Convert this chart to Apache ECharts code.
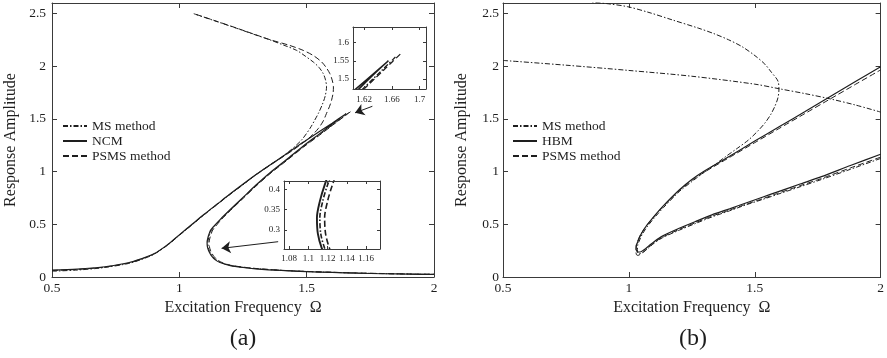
<!DOCTYPE html>
<html>
<head>
<meta charset="utf-8">
<script src="https://cdn.jsdelivr.net/npm/echarts@6/dist/echarts.min.js"></script>
<style>
  html, body { margin: 0; padding: 0; background: #fff; }
  #chart { width: 887px; height: 358px; }
</style>
</head>
<body>
<div id="chart"></div>
<script>
// ---------- (a) frequency–response curves ----------
// NCM: upper branch -> peak -> middle (unstable) branch -> lower branch
const ncmA = [
  [0.5,0.066],[0.6,0.075],[0.7,0.095],[0.8,0.135],[0.85,0.172],[0.9,0.22],[0.95,0.3],[1.0,0.4],
  [1.05,0.5],[1.1,0.6],[1.15,0.695],[1.2,0.79],[1.3,0.97],[1.4,1.135],[1.487,1.28],[1.5,1.3],
  [1.6,1.46],[1.655,1.55],
  [1.64,1.524],[1.6,1.45],[1.55,1.358],[1.487,1.243],[1.42,1.112],[1.356,0.99],[1.3,0.87],
  [1.25,0.755],[1.2,0.64],[1.16,0.545],[1.135,0.48],[1.123,0.445],[1.117,0.41],[1.112,0.37],
  [1.109,0.33],
  [1.11,0.29],[1.114,0.255],[1.12,0.225],[1.128,0.195],[1.14,0.165],[1.16,0.137],[1.2,0.108],
  [1.25,0.09],[1.3,0.078],[1.4,0.062],[1.5,0.051],[1.6,0.043],[1.7,0.036],[1.8,0.031],
  [1.9,0.027],[2.0,0.024]
];
// MS method: resonant branch bending back to high amplitude
const msAUpper = [
  [0.5,0.055],[0.6,0.066],[0.7,0.088],[0.8,0.128],[0.85,0.165],[0.9,0.215],[0.95,0.295],
  [1.0,0.395],[1.05,0.495],[1.1,0.595],[1.15,0.69],[1.2,0.785],[1.25,0.875],[1.3,0.97],
  [1.35,1.055],[1.4,1.135],[1.44,1.21],[1.48,1.3],[1.513,1.41],[1.532,1.49],[1.546,1.553],
  [1.562,1.64],[1.573,1.72],[1.578,1.805],[1.574,1.87],[1.565,1.93],[1.548,1.99],[1.526,2.04],
  [1.495,2.095],[1.461,2.15],[1.41,2.2],[1.356,2.25],[1.29,2.305],[1.225,2.36],[1.14,2.43],
  [1.055,2.5]
];
// MS method: middle and lower branches
const msALower = [
  [1.665,1.56],[1.645,1.523],[1.6,1.44],[1.55,1.35],[1.487,1.237],[1.42,1.107],[1.356,0.985],
  [1.3,0.865],[1.25,0.75],[1.2,0.635],[1.16,0.54],[1.137,0.478],[1.126,0.443],[1.12,0.41],
  [1.115,0.37],[1.112,0.33],[1.113,0.29],[1.117,0.255],[1.123,0.225],[1.131,0.195],
  [1.143,0.165],[1.163,0.137],[1.2,0.11],[1.25,0.092],[1.3,0.08],[1.4,0.063],[1.5,0.052],
  [1.6,0.044],[1.7,0.037],[1.8,0.032],[1.9,0.028],[2.0,0.025]
];
// PSMS method: resonant branch
const psmsAUpper = [
  [0.5,0.062],[0.6,0.072],[0.7,0.092],[0.8,0.132],[0.85,0.17],[0.9,0.218],[0.95,0.298],
  [1.0,0.398],[1.05,0.498],[1.1,0.598],[1.15,0.693],[1.2,0.788],[1.25,0.878],[1.3,0.968],
  [1.35,1.05],[1.4,1.13],[1.45,1.21],[1.5,1.3],[1.525,1.355],[1.546,1.41],[1.565,1.48],
  [1.578,1.553],[1.59,1.62],[1.598,1.68],[1.604,1.75],[1.605,1.805],[1.6,1.87],[1.591,1.93],
  [1.576,1.99],[1.559,2.04],[1.527,2.1],[1.487,2.15],[1.43,2.2],[1.356,2.252],[1.29,2.307],
  [1.225,2.362],[1.14,2.432],[1.055,2.5]
];
// PSMS method: middle and lower branches
const psmsALower = [
  [1.672,1.568],[1.65,1.528],[1.6,1.437],[1.55,1.345],[1.487,1.232],[1.42,1.102],[1.356,0.98],
  [1.3,0.86],[1.25,0.745],[1.2,0.63],[1.165,0.545],[1.142,0.48],[1.131,0.445],[1.125,0.41],
  [1.12,0.37],[1.117,0.33],[1.118,0.29],[1.122,0.255],[1.128,0.225],[1.136,0.195],
  [1.148,0.165],[1.168,0.137],[1.2,0.112],[1.25,0.094],[1.3,0.081],[1.4,0.064],[1.5,0.053],
  [1.6,0.045],[1.7,0.038],[1.8,0.033],[1.9,0.029],[2.0,0.026]
];

// ---------- (b) frequency–response curves ----------
const msBLine = [
  [0.5,2.055],[0.75,2.01],[1.0,1.96],[1.25,1.905],[1.5,1.83],[1.6,1.785],[1.7,1.74],
  [1.8,1.69],[1.9,1.632],[2.0,1.565]
];
const msBCurve = [
  [2.0,1.125],[1.88,1.022],[1.765,0.925],[1.68,0.856],[1.594,0.787],[1.53,0.735],[1.462,0.682],
  [1.4,0.628],[1.33,0.57],[1.265,0.508],[1.2,0.444],[1.133,0.372],[1.1,0.32],[1.08,0.28],
  [1.06,0.24],[1.046,0.222],[1.038,0.222],[1.034,0.245],
  [1.035,0.3],[1.041,0.34],[1.052,0.4],[1.072,0.475],[1.105,0.572],[1.138,0.66],[1.2,0.81],
  [1.25,0.905],[1.291,0.98],[1.338,1.06],[1.383,1.14],[1.43,1.22],[1.475,1.3],[1.51,1.38],
  [1.54,1.46],[1.563,1.54],[1.58,1.62],[1.592,1.7],[1.596,1.775],[1.592,1.86],[1.567,1.94],
  [1.54,2.02],[1.501,2.1],[1.45,2.185],[1.396,2.251],[1.338,2.309],[1.278,2.36],
  [1.172,2.44],[1.08,2.51],[0.995,2.565],[0.92,2.592],[0.85,2.61]
];
const hbmB = [
  [2.0,1.165],[1.88,1.058],[1.765,0.952],[1.68,0.882],[1.594,0.81],[1.53,0.757],[1.462,0.7],
  [1.4,0.647],[1.33,0.59],[1.265,0.527],[1.2,0.462],[1.133,0.388],[1.1,0.335],[1.08,0.297],
  [1.06,0.258],[1.045,0.237],[1.034,0.24],[1.029,0.26],
  [1.03,0.3],[1.036,0.34],[1.047,0.4],[1.067,0.477],[1.1,0.575],[1.133,0.665],[1.2,0.825],
  [1.25,0.925],[1.3,1.005],[1.4,1.145],[1.5,1.29],[1.6,1.43],[1.7,1.57],[1.8,1.713],
  [1.9,1.855],[2.0,1.995]
];
const psmsB = [
  [2.0,1.137],[1.88,1.035],[1.765,0.935],[1.68,0.866],[1.594,0.796],[1.53,0.742],[1.462,0.688],
  [1.4,0.635],[1.33,0.578],[1.265,0.516],[1.2,0.452],[1.133,0.378],[1.1,0.325],[1.08,0.285],
  [1.06,0.243],[1.045,0.215],[1.036,0.205],[1.03,0.212],[1.028,0.25],
  [1.029,0.3],[1.035,0.34],[1.046,0.4],[1.066,0.475],[1.1,0.573],[1.133,0.662],[1.2,0.82],
  [1.25,0.915],[1.3,0.995],[1.4,1.135],[1.5,1.275],[1.6,1.414],[1.7,1.552],[1.8,1.69],
  [1.9,1.828],[2.0,1.965]
];

// ---------- ticks ----------
const xTicksMain = [0.5, 1, 1.5, 2];
const yTicksMain = [0, 0.5, 1, 1.5, 2, 2.5];
const xTicksZoomPeak = [1.62, 1.66, 1.7];
const yTicksZoomPeak = [1.5, 1.55, 1.6];
const xTicksZoomTurn = [1.08, 1.1, 1.12, 1.14, 1.16];
const yTicksZoomTurn = [0.3, 0.35, 0.4];

// ---------- annotation arrows (from inset to the region it magnifies) ----------
const arrowsA = [
  [[1.758, 1.62], [1.69, 1.558]],
  [[1.388, 0.335], [1.166, 0.272]]
];

// ---------- drawing ----------
const FONT = "'Liberation Serif', 'Times New Roman', serif";
const TXT = '#1e1e1e';
const AX = '#3a3a3a';
const STYLE = {
  ms:   { color: TXT, width: 1,   type: [5, 2, 1.5, 2] },
  full: { color: TXT, width: 1.2, type: 'solid' },
  psms: { color: TXT, width: 1,   type: [6, 3] }
};

function makeAxes(dim, grid, range, ticks, o) {
  const mk = (pos, labels) => ({
    type: 'value', gridIndex: grid, min: range[0], max: range[1], position: pos, z: o.z || 0,
    splitLine: { show: false },
    axisLine: { show: true, onZero: false, lineStyle: { color: AX, width: 1 } },
    axisTick: { show: true, inside: true, length: o.tick, customValues: ticks,
                lineStyle: { color: AX, width: 1 } },
    axisLabel: labels
      ? { show: true, customValues: ticks, margin: o.margin, fontFamily: FONT,
          fontSize: o.fs, color: TXT }
      : { show: false },
    name: labels ? (o.name || '') : '',
    nameLocation: 'middle', nameGap: o.nameGap || 0,
    nameTextStyle: { fontFamily: FONT, fontSize: 16, color: TXT }
  });
  return dim === 'x' ? [mk('bottom', true), mk('top', false)]
                     : [mk('left', true), mk('right', false)];
}

const grids = [
  { left: 52,  top: 3,   width: 382, height: 274 },                       // (a)
  { left: 503, top: 3,   width: 380, height: 274 },                       // (b)
  { left: 353, top: 27,  width: 73,  height: 62, z: 5, show: true,
    backgroundColor: '#fff', borderWidth: 0 },                            // (a) peak zoom
  { left: 284, top: 181, width: 96,  height: 68, z: 5, show: true,
    backgroundColor: '#fff', borderWidth: 0 }                             // (a) turning-point zoom
];

const xAxes = [].concat(
  makeAxes('x', 0, [0.5, 2], xTicksMain, { tick: 5, margin: 4, fs: 13.5,
    name: 'Excitation Frequency  \u03A9', nameGap: 22 }),
  makeAxes('x', 1, [0.5, 2], xTicksMain, { tick: 5, margin: 4, fs: 13.5,
    name: 'Excitation Frequency  \u03A9', nameGap: 22 }),
  makeAxes('x', 2, [1.604, 1.709], xTicksZoomPeak, { tick: 3, margin: 6, fs: 9, z: 7 }),
  makeAxes('x', 3, [1.0748, 1.1745], xTicksZoomTurn, { tick: 3, margin: 5, fs: 9, z: 7 })
);
const yAxes = [].concat(
  makeAxes('y', 0, [0, 2.6], yTicksMain, { tick: 5, margin: 6, fs: 13.5,
    name: 'Response Amplitude', nameGap: 33 }),
  makeAxes('y', 1, [0, 2.6], yTicksMain, { tick: 5, margin: 4, fs: 13.5,
    name: 'Response Amplitude', nameGap: 33 }),
  makeAxes('y', 2, [1.473, 1.642], yTicksZoomPeak, { tick: 3, margin: 4, fs: 9, z: 7 }),
  makeAxes('y', 3, [0.253, 0.42], yTicksZoomTurn, { tick: 3, margin: 4, fs: 9, z: 7 })
);

function curve(name, data, style, axisIdx, z, width, smooth) {
  return {
    type: 'line', name, data, xAxisIndex: axisIdx, yAxisIndex: axisIdx,
    symbol: 'none', smooth: smooth == null ? 0.3 : smooth, clip: true, silent: true, z: z,
    color: TXT, itemStyle: { color: TXT },
    lineStyle: Object.assign({}, style, width ? { width } : {})
  };
}

const series = [];
// panel (a): main axes and both magnified views
[[0, 2, null], [2, 6, 1.3], [3, 6, 1.6]].forEach(([ax, z, w]) => {
  series.push(curve('MS method',   msAUpper,   STYLE.ms,   ax * 2, z, w));
  series.push(curve('MS method',   msALower,   STYLE.ms,   ax * 2, z, w));
  series.push(curve('NCM',         ncmA,       STYLE.full, ax * 2, z, w ? w + 0.3 : null));
  series.push(curve('PSMS method', psmsAUpper, STYLE.psms, ax * 2, z, w));
  series.push(curve('PSMS method', psmsALower, STYLE.psms, ax * 2, z, w));
});
// panel (b)
series.push(curve('MS method',   msBLine,  STYLE.ms,   2, 2));
series.push(curve('MS method',   msBCurve, STYLE.ms,   2, 2, null, 0.3));
series.push(curve('HBM',         hbmB,     STYLE.full, 2, 2, null, 0.2));
series.push(curve('PSMS method', psmsB,    STYLE.psms, 2, 2, null, 0.2));
// arrows pointing from the magnified views to their regions
series.push({
  type: 'lines', coordinateSystem: 'cartesian2d', xAxisIndex: 0, yAxisIndex: 0,
  symbol: ['none', 'arrow'], symbolSize: 9, silent: true, z: 9,
  lineStyle: { color: TXT, width: 1, opacity: 1, curveness: 0 },
  data: arrowsA.map(c => ({ coords: c }))
});

const legendBase = {
  orient: 'vertical', top: 119, padding: 0, itemWidth: 24, itemHeight: 12, itemGap: 1,
  selectedMode: false,
  itemStyle: { opacity: 0, color: 'transparent', borderWidth: 0 },
  textStyle: { fontFamily: FONT, fontSize: 13.5, lineHeight: 14, color: TXT }
};

const chart = echarts.init(document.getElementById('chart'), null, { renderer: 'canvas' });
chart.setOption({
  animation: false,
  backgroundColor: '#fff',
  grid: grids,
  xAxis: xAxes,
  yAxis: yAxes,
  legend: [
    Object.assign({}, legendBase, { left: 62,  data: ['MS method', 'NCM', 'PSMS method'] }),
    Object.assign({}, legendBase, { left: 512, data: ['MS method', 'HBM', 'PSMS method'] })
  ],
  graphic: [
    { type: 'text', x: 243, y: 339, style: { text: '(a)', font: '24px ' + FONT, fill: TXT,
      textAlign: 'center', textVerticalAlign: 'middle' } },
    { type: 'text', x: 693, y: 339, style: { text: '(b)', font: '24px ' + FONT, fill: TXT,
      textAlign: 'center', textVerticalAlign: 'middle' } }
  ],
  series
});
</script>
</body>
</html>
